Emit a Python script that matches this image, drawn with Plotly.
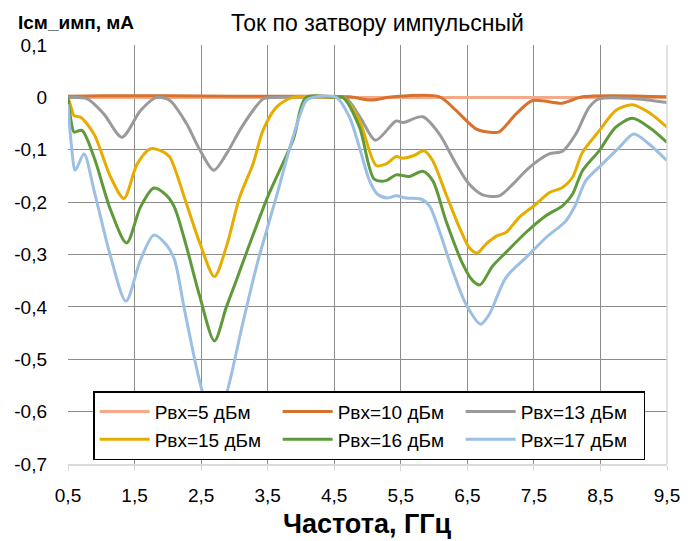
import plotly.graph_objects as go

# ---------------- data ----------------
names = ["Рвх=5 дБм", "Рвх=10 дБм", "Рвх=13 дБм", "Рвх=15 дБм", "Рвх=16 дБм", "Рвх=17 дБм"]

f_5 = [0.5, 2.5, 4.5, 6.5, 8.5, 9.5]
i_5 = [0.0, 0.0, 0.0, 0.0, 0.0, 0.0]

f_10 = [0.5, 1.0, 2.0, 3.0, 4.0, 4.73, 5.05, 5.38, 6.08, 6.33, 6.63, 6.88, 6.98, 7.23, 7.48, 7.93, 8.23, 9.5]
i_10 = [0.002, 0.003, 0.003, 0.002, 0.002, 0.001, -0.005, 0.001, 0.001, -0.025, -0.06, -0.067, -0.066, -0.032, -0.006, -0.011, 0.001, 0.001]

f_13 = [0.5, 0.79, 1.04, 1.31, 1.59, 1.83, 2.03, 2.28, 2.48, 2.69, 2.88, 3.08, 3.28, 3.43, 3.6, 4.5,
        4.68, 4.9, 5.12, 5.43, 5.53, 5.83, 6.08, 6.33, 6.53, 6.73, 6.98, 7.18, 7.43, 7.73, 7.93, 8.13, 8.33, 8.48, 8.98, 9.5]
i_13 = [0.0, -0.003, -0.032, -0.076, -0.025, 0.0, -0.006, -0.05, -0.1, -0.139, -0.108, -0.063, -0.025, -0.003, 0.0, 0.0,
        -0.002, -0.04, -0.082, -0.045, -0.048, -0.037, -0.07, -0.127, -0.166, -0.186, -0.188, -0.166, -0.134, -0.108, -0.103, -0.07, -0.019, -0.003, -0.002, -0.01]

f_15 = [0.5, 0.55, 0.59, 0.69, 0.89, 1.14, 1.34, 1.54, 1.74, 1.93, 2.03, 2.28, 2.48, 2.70, 2.88, 3.08, 3.28, 3.43, 3.63, 3.88, 4.5,
        4.63, 4.88, 5.13, 5.28, 5.43, 5.53, 5.70, 5.85, 5.98, 6.18, 6.38, 6.53, 6.65, 6.78, 6.95, 7.08, 7.28, 7.53, 7.73, 7.93, 8.08, 8.23, 8.48, 8.73, 8.98, 9.23, 9.5]
i_15 = [0.0, -0.02, -0.035, -0.038, -0.07, -0.152, -0.193, -0.127, -0.098, -0.104, -0.114, -0.203, -0.278, -0.342, -0.285, -0.19, -0.127, -0.063, -0.019, 0.0, 0.0,
        0.0, -0.045, -0.13, -0.127, -0.113, -0.116, -0.111, -0.102, -0.121, -0.185, -0.248, -0.287, -0.297, -0.28, -0.264, -0.258, -0.229, -0.204, -0.182, -0.172, -0.153, -0.105, -0.064, -0.025, -0.014, -0.029, -0.057]

f_16 = [0.5, 0.54, 0.59, 0.71, 0.89, 1.14, 1.38, 1.59, 1.79, 1.98, 2.1, 2.28, 2.48, 2.70, 2.88, 3.03, 3.18, 3.5, 3.88, 4.08, 4.5,
        4.63, 4.88, 5.1, 5.28, 5.43, 5.63, 5.83, 5.98, 6.18, 6.43, 6.58, 6.69, 6.88, 7.08, 7.38, 7.68, 7.93, 8.08, 8.23, 8.48, 8.73, 8.98, 9.23, 9.5]
i_16 = [0.0, -0.04, -0.066, -0.063, -0.114, -0.215, -0.278, -0.209, -0.173, -0.187, -0.21, -0.285, -0.38, -0.465, -0.4, -0.349, -0.297, -0.19, -0.082, 0.0, 0.0,
        0.0, -0.057, -0.156, -0.159, -0.148, -0.151, -0.141, -0.159, -0.236, -0.318, -0.35, -0.358, -0.322, -0.296, -0.258, -0.226, -0.207, -0.185, -0.14, -0.102, -0.057, -0.04, -0.057, -0.086]

f_17 = [0.5, 0.55, 0.61, 0.74, 0.89, 1.14, 1.37, 1.59, 1.79, 1.98, 2.1, 2.23, 2.31, 2.52, 2.72, 2.89, 3.11, 3.28, 3.38, 3.63, 3.88, 4.08, 4.18, 4.53,
        4.73, 4.88, 5.03, 5.15, 5.3, 5.43, 5.58, 5.8, 5.93, 6.08, 6.28, 6.48, 6.70, 6.83, 7.08, 7.38, 7.68, 7.98, 8.13, 8.28, 8.53, 8.78, 9.0, 9.23, 9.5]
i_17 = [-0.013, -0.09, -0.139, -0.108, -0.177, -0.304, -0.389, -0.31, -0.263, -0.282, -0.31, -0.392, -0.443, -0.562, -0.62, -0.562, -0.44, -0.349, -0.3, -0.19, -0.076, -0.006, 0.0, 0.0,
        -0.038, -0.096, -0.159, -0.185, -0.192, -0.188, -0.192, -0.194, -0.207, -0.255, -0.331, -0.395, -0.433, -0.414, -0.344, -0.306, -0.268, -0.236, -0.204, -0.159, -0.127, -0.096, -0.07, -0.089, -0.121]

x_ticks = [0.5, 1.5, 2.5, 3.5, 4.5, 5.5, 6.5, 7.5, 8.5, 9.5]
x_tick_labels = ["0,5", "1,5", "2,5", "3,5", "4,5", "5,5", "6,5", "7,5", "8,5", "9,5"]
y_ticks = [0.1, 0.0, -0.1, -0.2, -0.3, -0.4, -0.5, -0.6, -0.7]
y_tick_labels = ["0,1", "0", "-0,1", "-0,2", "-0,3", "-0,4", "-0,5", "-0,6", "-0,7"]

series = [(f_5, i_5), (f_10, i_10), (f_13, i_13), (f_15, i_15), (f_16, i_16), (f_17, i_17)]
colors = ["#F4A98A", "#D8702E", "#9A9A9A", "#E6AD00", "#5E9A3A", "#9CBFE4"]

SANS = "Liberation Sans, Arial, sans-serif"

fig = go.Figure()
for (fx, fy), nm, c in zip(series, names, colors):
    fig.add_trace(go.Scatter(x=fx, y=fy, name=nm, mode="lines",
                             line=dict(color=c, width=3, shape="spline", smoothing=0.8)))

fig.update_layout(
    width=700, height=541,
    margin=dict(l=68, r=33, t=45, b=77, autoexpand=False),
    paper_bgcolor="white", plot_bgcolor="white",
    xaxis=dict(range=[0.5, 9.5], tickvals=x_ticks, ticktext=x_tick_labels, automargin=False,
               showgrid=True, gridcolor="#8C8C8C", gridwidth=1,
               showline=True, linecolor="#D9D9D9", linewidth=1.5,
               ticks="outside", ticklen=5, tickcolor="#D9D9D9",
               ticklabelstandoff=8,
               tickfont=dict(family=SANS, size=19, color="black"),
               zeroline=False),
    yaxis=dict(range=[-0.7, 0.1], tickvals=y_ticks, ticktext=y_tick_labels, automargin=False,
               showgrid=True, gridcolor="#8C8C8C", gridwidth=1,
               showline=False, ticks="", zeroline=False, ticklabelstandoff=20,
               tickfont=dict(family=SANS, size=19, color="black")),
    legend=dict(orientation="h", x=0.042, y=0.174, xanchor="left", yanchor="top",
                bgcolor="white", bordercolor="black", borderwidth=1.5,
                font=dict(family=SANS, size=19, color="black"),
                entrywidth=118, entrywidthmode="pixels", tracegroupgap=0,
                itemwidth=50),
    showlegend=True,
)

fig.add_annotation(text="Ток по затвору импульсный", xref="paper", yref="paper", x=0.5175, y=1.053,
                   xanchor="center", yanchor="middle", showarrow=False,
                   font=dict(family=SANS, size=23, color="black"))
fig.add_annotation(text="<b>Iсм_имп, мА</b>", xref="paper", yref="paper", x=-0.087, y=1.053,
                   xanchor="left", yanchor="middle", showarrow=False,
                   font=dict(family=SANS, size=19, color="black"))
fig.add_annotation(text="<b>Частота, ГГц</b>", xref="paper", yref="paper", x=0.5, y=-0.143,
                   xanchor="center", yanchor="middle", showarrow=False,
                   font=dict(family=SANS, size=27, color="black"))
fig.add_shape(type="line", xref="paper", yref="paper", x0=1, x1=1, y0=0, y1=1,
              line=dict(color="#D9D9D9", width=1.5))

fig.write_html("out.html", config={"displayModeBar": False},
               post_script="document.body.style.margin='0';")
